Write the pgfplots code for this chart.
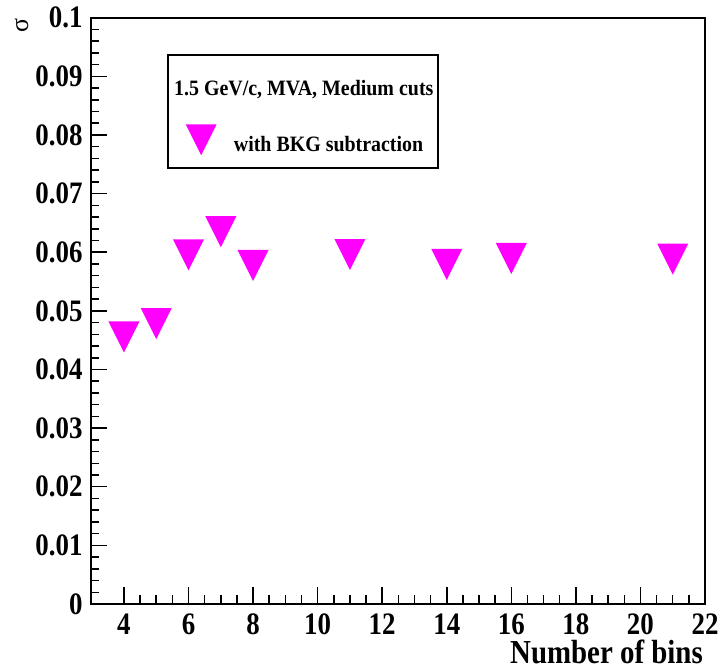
\documentclass[border=0pt]{standalone}
\usepackage{graphicx}
\usepackage{pgfplots}
\pgfplotsset{compat=1.18}
\usepackage{fontspec}
\setmainfont{Liberation Serif}
\definecolor{mag}{RGB}{255,0,255}
\newcommand{\st}[1]{\scalebox{1}[1.16]{#1}}
\newcommand{\slg}[1]{\scalebox{1}[1.1]{#1}}
\pgfdeclareplotmark{tridown}{%
 \pgfpathmoveto{\pgfqpoint{-\pgfplotmarksize}{\pgfplotmarksize}}%
 \pgfpathlineto{\pgfqpoint{\pgfplotmarksize}{\pgfplotmarksize}}%
 \pgfpathlineto{\pgfqpoint{0pt}{-\pgfplotmarksize}}%
 \pgfpathclose
 \pgfusepathqfill}
\pgfplotsset{myleg/.style={legend image code/.code={\draw[##1] plot coordinates {(0bp,4.4bp)};}}}
\begin{document}
\begin{tikzpicture}
\useasboundingbox (0,0) rectangle (722bp,669bp);
\begin{axis}[
 at={(90.7bp,65bp)}, anchor=south west,
 scale only axis, width=614.3bp, height=586.3bp,
 xmin=2.97, xmax=22, ymin=0, ymax=0.1,
 axis line style={line width=2bp},
 tick style={line width=1.5bp, black},
 tick pos=left, tick align=inside,
 major tick length=16.5bp, minor tick length=8.5bp,
 xtick={4,6,8,10,12,14,16,18,20,22}, minor x tick num=3,
 xticklabels={\st{4},\st{6},\st{8},\st{10},\st{12},\st{14},\st{16},\st{18},\st{20},\st{22}},
 ytick={0,0.01,0.02,0.03,0.04,0.05,0.06,0.07,0.08,0.09,0.1},
 yticklabels={\st{0},\st{0.01},\st{0.02},\st{0.03},\st{0.04},\st{0.05},\st{0.06},\st{0.07},\st{0.08},\st{0.09},\st{0.1}},
 minor y tick num=4,
 ticklabel style={font=\fontsize{27}{27}\selectfont\bfseries, /pgf/number format/assume math mode=true},
 xticklabel style={anchor=north, inner sep=0pt, yshift=-10bp},
 yticklabel style={anchor=east, inner sep=0pt, xshift=-8bp},
 xlabel={\st{Number of bins}},
 xlabel style={at={(rel axis cs:1,0)}, anchor=north east, inner sep=0pt, xshift=-2bp, yshift=-36bp, font=\fontsize{29}{29}\selectfont\bfseries},
 ylabel={σ},
 ylabel style={at={([xshift=-69bp,yshift=-8bp]rel axis cs:0,1)}, anchor=center, inner sep=0pt, font=\fontsize{26}{26}\selectfont},
 legend style={at={(rel axis cs:0.15465,0.7917)}, anchor=west, draw=none, fill=none, inner sep=0pt, outer sep=0pt, column sep=17.2bp, nodes={inner sep=0pt}, font=\fontsize{20}{20}\selectfont\bfseries},
 clip=false,
]
\draw[line width=2bp, fill=white] (rel axis cs:0.1263,0.7436) rectangle (rel axis cs:0.5646,0.9364);
\node[anchor=base west, inner sep=0pt, font=\fontsize{20}{20}\selectfont\bfseries] at (rel axis cs:0.1356,0.8665) {\slg{1.5 GeV/c, MVA, Medium cuts}};
\addplot[only marks, mark=tridown, mark size=15.5bp, color=mag, myleg]
 coordinates {
 (4,0.04554)
 (5,0.04781)
 (6,0.05953)
 (7,0.06350)
 (8,0.05774)
 (11,0.05961)
 (14,0.05794)
 (16,0.05893)
 (21,0.05881)
 };
\addlegendentry{\slg{with BKG subtraction}}
\end{axis}
\end{tikzpicture}
\end{document}
